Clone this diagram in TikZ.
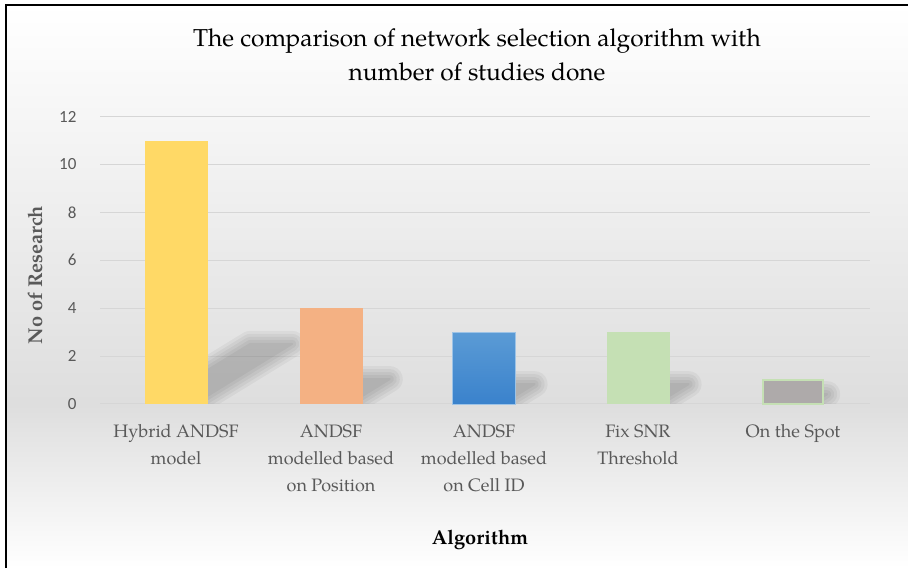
\documentclass[tikz,border=0pt]{standalone}
\usepackage{fontspec}
\setmainfont{TeX Gyre Pagella}
\newfontfamily\tickfont{Carlito}
\usetikzlibrary{positioning}

\definecolor{gridgray}{HTML}{D6D6D6}
\definecolor{labgray}{HTML}{595959}
\definecolor{barA}{HTML}{FFD966}
\definecolor{barB}{HTML}{F4B183}
\definecolor{barC}{HTML}{5B9BD5}
\definecolor{barCdark}{HTML}{3A82CC}
\definecolor{barD}{HTML}{C5E0B4}
\definecolor{barE}{HTML}{AEAAAA}

\begin{document}
\begin{tikzpicture}
  [x=1pt,y=1pt,
   tick/.style={anchor=east,text=labgray,font=\tickfont\fontsize{17}{17}\selectfont},
   cat/.style={anchor=north,align=center,text=labgray,font=\fontsize{18}{27}\selectfont},
   axtitle/.style={font=\bfseries\fontsize{20}{22}\selectfont}]
  \useasboundingbox (0,0) rectangle (908,568);

  % background of the chart area
  \shade[top color=white,bottom color=black!13] (6,164) rectangle (908,563);
  \shade[top color=black!13,bottom color=white] (6,0) rectangle (908,164);
  \draw[line width=2.4pt] (6,0) -- (6,563) -- (908,563);

  \node[align=center,font=\fontsize{24.5}{34}\selectfont] (title) at (477,513)
    {The comparison of network selection algorithm with\\number of studies done};

  \begin{scope}[shift={(100,164)},y=23.95pt]
    \foreach \v in {0,2,...,12} {
      \draw[gridgray,line width=1pt] (0,\v) -- (770,\v);
      \node[tick] (t\v) at (-20,\v) {\v};
    }

    % blurred shadows
    \begin{scope}
      \clip (0,0) rectangle (780,13);
      \foreach \cx/\h in {76/11,231/4,384/3,538/3,693/1} {
        \foreach \w in {26,20,14,8,2} {
          \begin{scope}[transparency group,opacity=.042]
            \filldraw[black,line width=\w pt,line join=round]
              (\cx-16,0.2) -- (\cx+26,0.2) -- ++(8.2*\h,0.21*\h) -- ++(-42,0) -- cycle;
          \end{scope}
        }
      }
    \end{scope}

    % bars
    \fill[barA] (44.5,0) rectangle (107.5,11);
    \fill[barB] (199.5,0) rectangle (262.5,4);
    \shade[top color=barC,bottom color=barCdark,draw=barC!60] (352.5,0) rectangle (415.5,3);
    \fill[barD] (506.5,0) rectangle (569.5,3);
    \filldraw[fill=barE,draw=barD,line width=1.2pt] (663,0) rectangle (723,1);

    % category labels
    \node[cat] (c1) at (76,-0.7)  {Hybrid ANDSF\\model};
    \node[cat] (c2) at (231,-0.7) {ANDSF\\modelled based\\on Position};
    \node[cat] (c3) at (384,-0.7) {ANDSF\\modelled based\\on Cell ID};
    \node[cat] (c4) at (538,-0.7) {Fix SNR\\Threshold};
    \node[cat] (c5) at (693,-0.7) {On the Spot};
  \end{scope}

  \node[axtitle,text=labgray,rotate=90] (ytitle) at (35,293) {No of Research};
  \node[axtitle] (xtitle) at (480,28) {Algorithm};
\end{tikzpicture}
\end{document}
